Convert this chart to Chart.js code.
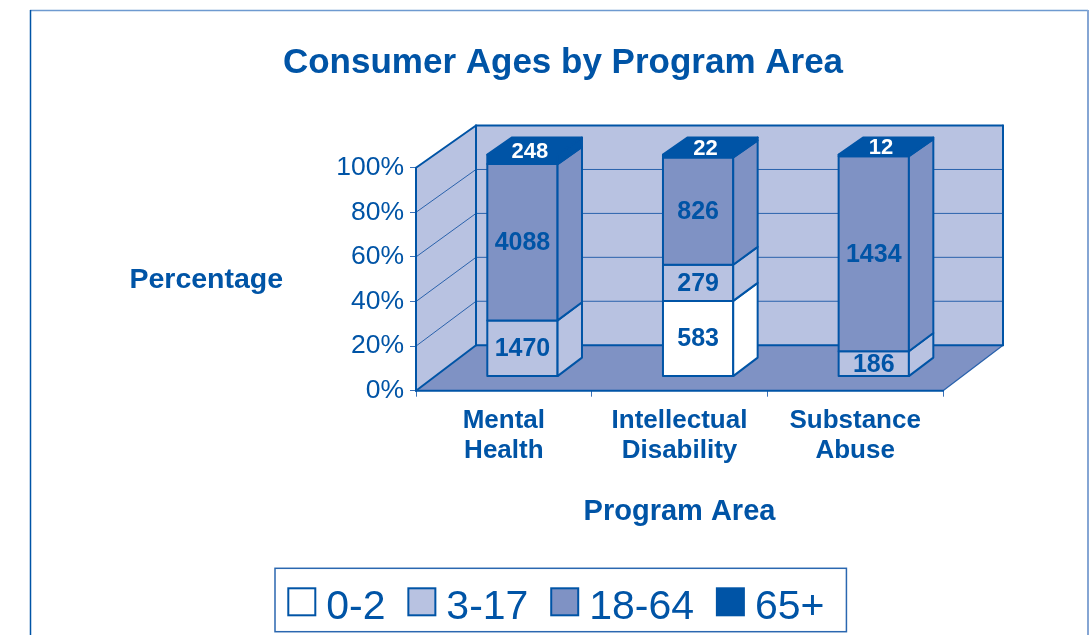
<!DOCTYPE html>
<html><head><meta charset="utf-8">
<script src="https://cdn.jsdelivr.net/npm/chart.js@4.4.1/dist/chart.umd.min.js"></script>
<style>html,body{margin:0;padding:0;background:#fff;overflow:hidden}canvas{display:block}</style>
</head><body>
<canvas id="c" width="1091" height="635"></canvas>
<script>
// ---- data ----
const categories = [['Mental','Health'],['Intellectual','Disability'],['Substance','Abuse']];
const seriesNames = ['0-2','3-17','18-64','65+'];
const ages0to2   = [0, 583, 0];
const ages3to17  = [1470, 279, 186];
const ages18to64 = [4088, 826, 1434];
const ages65plus = [248, 22, 12];
const yTickValues = [0, 20, 40, 60, 80, 100];
const chartTitle = 'Consumer Ages by Program Area';
const xTitle = 'Program Area';
const yTitle = 'Percentage';

const counts = [ages0to2, ages3to17, ages18to64, ages65plus];
const totals = categories.map((c,i)=>counts.reduce((s,a)=>s+a[i],0));
const share = arr => arr.map((v,i)=> v/totals[i]*100);

// ---- style ----
const DARK='#0054A6', LIGHT='#B8C2E1', MID='#7F92C4', WHITE='#FFFFFF', GRID='#2A62AC';
const fills=[WHITE, LIGHT, MID, DARK];
const FONT="'Liberation Sans', Arial, Helvetica, sans-serif";
const DX=60, DY=45.5, SHRINK=0.015, TF=0.31, TB=0.717;

function makeProj(chart){
  const y0 = chart.scales.y.getPixelForValue(0);
  return (x,y,t)=>[x+DX*t, (y0-DY*t)-(y0-y)*(1-SHRINK*t)];
}
function poly(ctx, pts, fill, stroke, lw){
  ctx.beginPath(); ctx.moveTo(pts[0][0],pts[0][1]);
  for(let k=1;k<pts.length;k++) ctx.lineTo(pts[k][0],pts[k][1]);
  ctx.closePath();
  if(fill){ctx.fillStyle=fill; ctx.fill();}
  if(stroke){ctx.strokeStyle=stroke; ctx.lineWidth=lw; ctx.stroke();}
}
function seg(ctx,a,b,color,lw){
  ctx.beginPath(); ctx.moveTo(a[0],a[1]); ctx.lineTo(b[0],b[1]);
  ctx.strokeStyle=color; ctx.lineWidth=lw; ctx.stroke();
}

const frame = {
  id:'frame',
  beforeDraw(chart){
    const ctx=chart.ctx; ctx.save();
    seg(ctx,[30,10.5],[1088,10.5],'#6E9AD0',1.5);
    seg(ctx,[1088,10],[1088,635],'#86A6D4',2);
    seg(ctx,[30.5,10],[30.5,635],DARK,1.5);
    ctx.restore();
  }
};

const scene3d = {
  id:'scene3d',
  beforeDatasetsDraw(chart){
    const ctx=chart.ctx, ca=chart.chartArea, ys=chart.scales.y;
    const P=makeProj(chart);
    const L=ca.left, R=ca.right, Y0=ys.getPixelForValue(0), YT=ys.getPixelForValue(100);
    ctx.save();
    ctx.lineJoin='round'; ctx.lineCap='round';
    // walls and floor
    poly(ctx,[P(L,Y0,0),P(L,YT,0),P(L,YT,1),P(L,Y0,1)],LIGHT);
    poly(ctx,[P(L,Y0,1),P(L,YT,1),P(R,YT,1),P(R,Y0,1)],LIGHT);
    poly(ctx,[P(L,Y0,0),P(R,Y0,0),P(R,Y0,1),P(L,Y0,1)],MID);
    // gridlines
    ys.ticks.forEach(tk=>{
      if(tk.value<=0||tk.value>=100) return;
      const y=ys.getPixelForValue(tk.value);
      seg(ctx,P(L,y,1),P(R,y,1),GRID,1);
      seg(ctx,P(L,y,0),P(L,y,1),GRID,1);
    });
    // edges
    seg(ctx,P(R,Y0,0),P(R,Y0,1),GRID,1.3);
    const E=2;
    seg(ctx,P(L,Y0,1),P(R,Y0,1),DARK,E);
    seg(ctx,P(L,Y0,1),P(L,YT,1),DARK,E);
    seg(ctx,P(L,YT,1),P(R,YT,1),DARK,E);
    seg(ctx,P(R,YT,1),P(R,Y0,1),DARK,E);
    seg(ctx,P(L,YT,0),P(L,YT,1),DARK,E);
    seg(ctx,P(L,Y0,0),P(L,Y0,1),DARK,E);
    seg(ctx,P(L,Y0,0),P(L,YT,0),DARK,E);
    seg(ctx,P(L,Y0,0),P(R,Y0,0),DARK,E);

    // bars
    const metas = chart.getSortedVisibleDatasetMetas();
    const n = chart.data.labels.length;
    const labelJobs=[];
    for(let i=0;i<n;i++){
      let topDs=-1;
      metas.forEach((m,d)=>{ const el=m.data[i]; if(Math.abs(el.base-el.y)>0.01) topDs=d; });
      metas.forEach((m,d)=>{
        const el=m.data[i]; if(Math.abs(el.base-el.y)<=0.01) return;
        const col=chart.data.datasets[m.index].backgroundColor;
        const x1=el.x-el.width/2, x2=el.x+el.width/2, yt=el.y, yb=el.base;
        poly(ctx,[P(x1,yb,TF),P(x2,yb,TF),P(x2,yt,TF),P(x1,yt,TF)],col,DARK,2);
        poly(ctx,[P(x2,yb,TF),P(x2,yb,TB),P(x2,yt,TB),P(x2,yt,TF)],col,DARK,2);
        if(d===topDs){
          poly(ctx,[P(x1,yt,TF),P(x2,yt,TF),P(x2,yt,TB),P(x1,yt,TB)],col,DARK,2);
        }
        const v=counts[m.index][i];
        if(d===topDs){
          const a=P(el.x,yb,TF), b=P(el.x,yt,TB);
          labelJobs.push({text:String(v), x:el.x+DX*(TF+(TB-TF)*0.3), y:(a[1]+b[1])/2, color:WHITE, size:22});
        } else {
          const a=P(el.x,yb,TF), b=P(el.x,yt,TF);
          labelJobs.push({text:String(v), x:a[0], y:(a[1]+b[1])/2, color:DARK, size:25});
        }
      });
    }
    ctx.textAlign='center'; ctx.textBaseline='middle';
    labelJobs.forEach(j=>{
      ctx.font='bold '+j.size+'px '+FONT; ctx.fillStyle=j.color;
      ctx.fillText(j.text,j.x,j.y+1);
    });
    ctx.restore();
    return false;
  }
};

const extras = {
  id:'extras',
  afterDraw(chart){
    const ctx=chart.ctx, ca=chart.chartArea;
    ctx.save();
    // y axis title (horizontal)
    ctx.font='bold 28.5px '+FONT; ctx.fillStyle=DARK;
    ctx.textAlign='center'; ctx.textBaseline='middle';
    ctx.fillText(yTitle, 206.3, (ca.top+ca.bottom)/2+1);
    // legend
    const startX=288.3, boxTop=588.3, box=27, boxGap=11, itemGap=22.8, baseY=619.3;
    ctx.font='41px '+FONT; ctx.textAlign='left'; ctx.textBaseline='alphabetic';
    let x=startX;
    chart.data.datasets.forEach(ds=>{
      ctx.fillStyle=ds.backgroundColor; ctx.fillRect(x,boxTop,box,box);
      ctx.strokeStyle=ds.borderColor; ctx.lineWidth=2; ctx.strokeRect(x,boxTop,box,box);
      x+=box+boxGap;
      ctx.fillStyle=DARK; ctx.fillText(ds.label,x,baseY);
      x+=ctx.measureText(ds.label).width+itemGap;
    });
    const right=x-itemGap+22;
    ctx.strokeStyle='#2B67B0'; ctx.lineWidth=1.5;
    ctx.strokeRect(startX-13.3,568.3,right-(startX-13.3),63.4);
    ctx.restore();
  }
};

new Chart(document.getElementById('c'), {
  type:'bar',
  data:{
    labels: categories,
    datasets: seriesNames.map((name,d)=>({
      label:name, data: share(counts[d]),
      backgroundColor: fills[d], borderColor: DARK, borderWidth: 2
    }))
  },
  options:{
    responsive:false, animation:false, devicePixelRatio:1,
    layout:{padding:{left:183, right:148, top:0, bottom:68.7}},
    datasets:{bar:{categoryPercentage:1, barPercentage:0.4}},
    plugins:{
      title:{display:true, text:chartTitle, color:DARK,
        font:{family:FONT, size:35, weight:'bold', lineHeight:1.2},
        padding:{top:42,bottom:83.7}},
      legend:{display:false},
      tooltip:{enabled:false}
    },
    scales:{
      x:{stacked:true,
        grid:{offset:true, drawOnChartArea:false, drawTicks:true, tickLength:6, color:'#3B72B8', lineWidth:1},
        border:{display:false},
        ticks:{color:DARK, font:{family:FONT,size:26,weight:'bold',lineHeight:1.15}, padding:9, maxRotation:0, autoSkip:false},
        title:{display:true, text:xTitle, color:DARK, font:{family:FONT,size:29,weight:'bold'}, padding:{top:0,bottom:37}},
        afterFit(s){ s.height=175.6; }
      },
      y:{stacked:true, min:0, max:100,
        afterBuildTicks(s){ s.ticks = yTickValues.map(v=>({value:v})); },
        grid:{drawOnChartArea:false, drawTicks:true, tickLength:6, color:'#3B72B8', lineWidth:1},
        border:{display:false},
        ticks:{color:DARK, font:{family:FONT,size:26.5}, padding:6, callback:v=>v+'%'},
        afterFit(s){ s.width=416-183; }
      }
    }
  },
  plugins:[frame, scene3d, extras]
});
</script>
</body></html>
